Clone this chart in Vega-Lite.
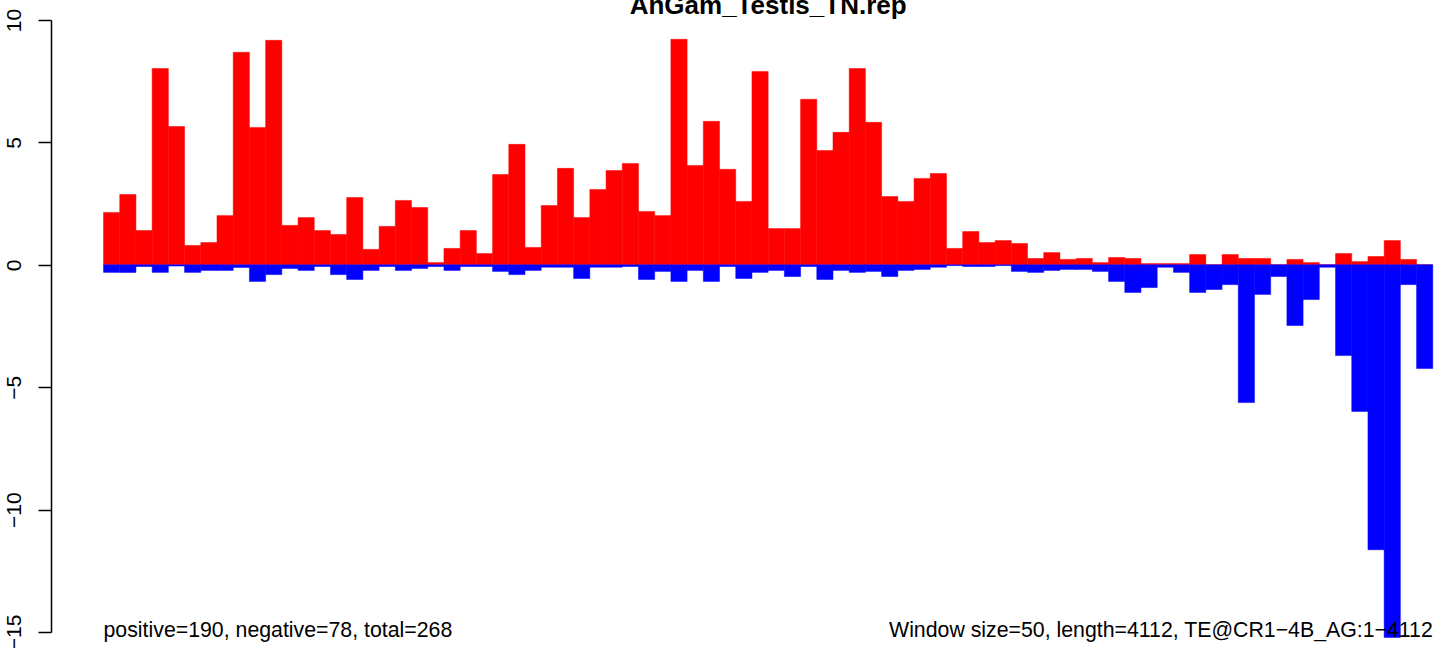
{
  "$schema": "https://vega.github.io/schema/vega-lite/v6.json",
  "width": 1398,
  "height": 612,
  "autosize": {"type": "none"},
  "padding": {"left": 51, "top": 20, "right": 0, "bottom": 16},
  "background": "white",
  "config": {"view": {"stroke": null}, "font": "Liberation Sans"},
  "datasets": {
    "windows": [
      {"w": 1, "start": 0, "end": 50, "pos": 2.14, "neg": -0.31},
      {"w": 2, "start": 50, "end": 100, "pos": 2.87, "neg": -0.31},
      {"w": 3, "start": 100, "end": 150, "pos": 1.40, "neg": -0.07},
      {"w": 4, "start": 150, "end": 200, "pos": 8.02, "neg": -0.31},
      {"w": 5, "start": 200, "end": 250, "pos": 5.65, "neg": -0.05},
      {"w": 6, "start": 250, "end": 300, "pos": 0.79, "neg": -0.31},
      {"w": 7, "start": 300, "end": 350, "pos": 0.91, "neg": -0.23},
      {"w": 8, "start": 350, "end": 400, "pos": 2.01, "neg": -0.23},
      {"w": 9, "start": 400, "end": 450, "pos": 8.68, "neg": -0.11},
      {"w": 10, "start": 450, "end": 500, "pos": 5.61, "neg": -0.68},
      {"w": 11, "start": 500, "end": 550, "pos": 9.17, "neg": -0.40},
      {"w": 12, "start": 550, "end": 600, "pos": 1.61, "neg": -0.15},
      {"w": 13, "start": 600, "end": 650, "pos": 1.93, "neg": -0.23},
      {"w": 14, "start": 650, "end": 700, "pos": 1.40, "neg": -0.07},
      {"w": 15, "start": 700, "end": 750, "pos": 1.24, "neg": -0.40},
      {"w": 16, "start": 750, "end": 800, "pos": 2.75, "neg": -0.60},
      {"w": 17, "start": 800, "end": 850, "pos": 0.63, "neg": -0.23},
      {"w": 18, "start": 850, "end": 900, "pos": 1.57, "neg": -0.07},
      {"w": 19, "start": 900, "end": 950, "pos": 2.63, "neg": -0.23},
      {"w": 20, "start": 950, "end": 1000, "pos": 2.34, "neg": -0.15},
      {"w": 21, "start": 1000, "end": 1050, "pos": 0.09, "neg": -0.07},
      {"w": 22, "start": 1050, "end": 1100, "pos": 0.67, "neg": -0.23},
      {"w": 23, "start": 1100, "end": 1150, "pos": 1.40, "neg": -0.07},
      {"w": 24, "start": 1150, "end": 1200, "pos": 0.46, "neg": -0.07},
      {"w": 25, "start": 1200, "end": 1250, "pos": 3.69, "neg": -0.27},
      {"w": 26, "start": 1250, "end": 1300, "pos": 4.92, "neg": -0.40},
      {"w": 27, "start": 1300, "end": 1350, "pos": 0.71, "neg": -0.23},
      {"w": 28, "start": 1350, "end": 1400, "pos": 2.42, "neg": -0.10},
      {"w": 29, "start": 1400, "end": 1450, "pos": 3.94, "neg": -0.10},
      {"w": 30, "start": 1450, "end": 1500, "pos": 1.93, "neg": -0.56},
      {"w": 31, "start": 1500, "end": 1550, "pos": 3.08, "neg": -0.10},
      {"w": 32, "start": 1550, "end": 1600, "pos": 3.85, "neg": -0.10},
      {"w": 33, "start": 1600, "end": 1650, "pos": 4.14, "neg": -0.07},
      {"w": 34, "start": 1650, "end": 1700, "pos": 2.18, "neg": -0.60},
      {"w": 35, "start": 1700, "end": 1750, "pos": 2.01, "neg": -0.27},
      {"w": 36, "start": 1750, "end": 1800, "pos": 9.21, "neg": -0.68},
      {"w": 37, "start": 1800, "end": 1850, "pos": 4.06, "neg": -0.23},
      {"w": 38, "start": 1850, "end": 1900, "pos": 5.86, "neg": -0.68},
      {"w": 39, "start": 1900, "end": 1950, "pos": 3.90, "neg": -0.07},
      {"w": 40, "start": 1950, "end": 2000, "pos": 2.59, "neg": -0.56},
      {"w": 41, "start": 2000, "end": 2050, "pos": 7.90, "neg": -0.31},
      {"w": 42, "start": 2050, "end": 2100, "pos": 1.48, "neg": -0.23},
      {"w": 43, "start": 2100, "end": 2150, "pos": 1.48, "neg": -0.48},
      {"w": 44, "start": 2150, "end": 2200, "pos": 6.76, "neg": -0.07},
      {"w": 45, "start": 2200, "end": 2250, "pos": 4.67, "neg": -0.60},
      {"w": 46, "start": 2250, "end": 2300, "pos": 5.41, "neg": -0.23},
      {"w": 47, "start": 2300, "end": 2350, "pos": 8.02, "neg": -0.31},
      {"w": 48, "start": 2350, "end": 2400, "pos": 5.82, "neg": -0.27},
      {"w": 49, "start": 2400, "end": 2450, "pos": 2.79, "neg": -0.48},
      {"w": 50, "start": 2450, "end": 2500, "pos": 2.59, "neg": -0.23},
      {"w": 51, "start": 2500, "end": 2550, "pos": 3.53, "neg": -0.19},
      {"w": 52, "start": 2550, "end": 2600, "pos": 3.73, "neg": -0.10},
      {"w": 53, "start": 2600, "end": 2650, "pos": 0.67, "neg": -0.03},
      {"w": 54, "start": 2650, "end": 2700, "pos": 1.36, "neg": -0.07},
      {"w": 55, "start": 2700, "end": 2750, "pos": 0.91, "neg": -0.07},
      {"w": 56, "start": 2750, "end": 2800, "pos": 0.99, "neg": -0.03},
      {"w": 57, "start": 2800, "end": 2850, "pos": 0.87, "neg": -0.27},
      {"w": 58, "start": 2850, "end": 2900, "pos": 0.26, "neg": -0.31},
      {"w": 59, "start": 2900, "end": 2950, "pos": 0.50, "neg": -0.23},
      {"w": 60, "start": 2950, "end": 3000, "pos": 0.22, "neg": -0.19},
      {"w": 61, "start": 3000, "end": 3050, "pos": 0.26, "neg": -0.19},
      {"w": 62, "start": 3050, "end": 3100, "pos": 0.09, "neg": -0.27},
      {"w": 63, "start": 3100, "end": 3150, "pos": 0.30, "neg": -0.68},
      {"w": 64, "start": 3150, "end": 3200, "pos": 0.26, "neg": -1.13},
      {"w": 65, "start": 3200, "end": 3250, "pos": 0.05, "neg": -0.93},
      {"w": 66, "start": 3250, "end": 3300, "pos": 0.05, "neg": -0.10},
      {"w": 67, "start": 3300, "end": 3350, "pos": 0.05, "neg": -0.31},
      {"w": 68, "start": 3350, "end": 3400, "pos": 0.42, "neg": -1.13},
      {"w": 69, "start": 3400, "end": 3450, "pos": 0, "neg": -1.01},
      {"w": 70, "start": 3450, "end": 3500, "pos": 0.42, "neg": -0.81},
      {"w": 71, "start": 3500, "end": 3550, "pos": 0.26, "neg": -5.63},
      {"w": 72, "start": 3550, "end": 3600, "pos": 0.26, "neg": -1.21},
      {"w": 73, "start": 3600, "end": 3650, "pos": 0, "neg": -0.48},
      {"w": 74, "start": 3650, "end": 3700, "pos": 0.22, "neg": -2.48},
      {"w": 75, "start": 3700, "end": 3750, "pos": 0.09, "neg": -1.42},
      {"w": 76, "start": 3750, "end": 3800, "pos": 0, "neg": -0.10},
      {"w": 77, "start": 3800, "end": 3850, "pos": 0.46, "neg": -3.71},
      {"w": 78, "start": 3850, "end": 3900, "pos": 0.13, "neg": -5.99},
      {"w": 79, "start": 3900, "end": 3950, "pos": 0.34, "neg": -11.64},
      {"w": 80, "start": 3950, "end": 4000, "pos": 0.99, "neg": -15.22},
      {"w": 81, "start": 4000, "end": 4050, "pos": 0.22, "neg": -0.81},
      {"w": 82, "start": 4050, "end": 4100, "pos": 0, "neg": -4.24}
    ]
  },
  "layer": [
    {
      "data": {"name": "windows"},
      "mark": {"type": "rect", "color": "#ff0000", "stroke": "#ff0000", "strokeWidth": 0.5},
      "encoding": {
        "x": {"field": "start", "type": "quantitative", "scale": {"domain": [-162, 4150], "nice": false, "zero": false}, "axis": null},
        "x2": {"field": "end"},
        "y": {
          "field": "pos", "type": "quantitative",
          "scale": {"domain": [-15, 10], "nice": false, "zero": false},
          "axis": {
            "values": [-15, -10, -5, 0, 5, 10],
            "title": null, "grid": false,
            "domain": true, "domainColor": "#000000", "domainWidth": 1.5,
            "ticks": true, "tickColor": "#000000", "tickWidth": 1.5, "tickSize": 13,
            "labelAngle": -90, "labelAlign": "center", "labelBaseline": "alphabetic",
            "labelPadding": 17.5, "labelFontSize": 21, "labelColor": "#000000",
            "labelFont": "Liberation Sans", "labelFlush": false, "labelOverlap": false
          }
        },
        "y2": {"datum": 0}
      }
    },
    {
      "data": {"name": "windows"},
      "mark": {"type": "rect", "color": "#0000ff", "stroke": "#0000ff", "strokeWidth": 0.5},
      "encoding": {
        "x": {"field": "start", "type": "quantitative"},
        "x2": {"field": "end"},
        "y": {"field": "neg", "type": "quantitative"},
        "y2": {"datum": 0}
      }
    },
    {
      "data": {"values": [{"t": "AnGam_Testis_TN.rep"}]},
      "mark": {"type": "text", "align": "center", "baseline": "alphabetic", "fontSize": 26, "fontWeight": "bold", "font": "Liberation Sans", "color": "#000000"},
      "encoding": {
        "x": {"datum": 2050, "type": "quantitative"},
        "y": {"datum": 10.25, "type": "quantitative"},
        "text": {"field": "t"}
      }
    },
    {
      "data": {"values": [{"t": "positive=190, negative=78, total=268"}]},
      "mark": {"type": "text", "align": "left", "baseline": "alphabetic", "fontSize": 21.3, "font": "Liberation Sans", "color": "#000000"},
      "encoding": {
        "x": {"datum": 0, "type": "quantitative"},
        "y": {"datum": -15.21, "type": "quantitative"},
        "text": {"field": "t"}
      }
    },
    {
      "data": {"values": [{"t": "Window size=50, length=4112, TE@CR1−4B_AG:1−4112"}]},
      "mark": {"type": "text", "align": "right", "baseline": "alphabetic", "fontSize": 21.3, "font": "Liberation Sans", "color": "#000000"},
      "encoding": {
        "x": {"datum": 4100, "type": "quantitative"},
        "y": {"datum": -15.21, "type": "quantitative"},
        "text": {"field": "t"}
      }
    }
  ]
}
